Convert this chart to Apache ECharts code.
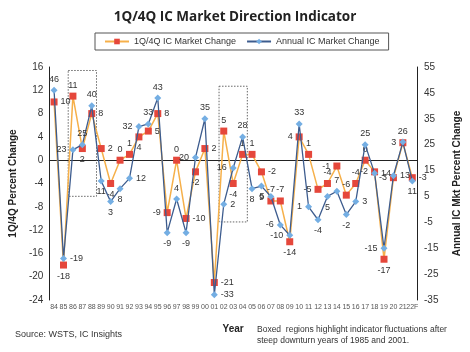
<!DOCTYPE html>
<html>
<head>
<meta charset="utf-8">
<script src="https://cdn.jsdelivr.net/npm/echarts@6/dist/echarts.min.js"></script>
<style>
  html, body { margin: 0; background: #fff; }
  #chart { width: 470px; height: 352px; }
</style>
</head>
<body>
<div id="chart"></div>
<script>
const years = ['84', '85', '86', '87', '88', '89', '90', '91', '92', '93', '94', '95', '96', '97', '98', '99',
  '00', '01', '02', '03', '04', '05', '06', '07', '08', '09', '10', '11', '12', '13', '14', '15', '16', '17',
  '18', '19', '20', '21', '22F'];
const quarterChange = [10, -18, 11, 2, 8, 2, -4, 0, 1, 4, 5, 8, -9, 0, -10, -2,
  2, -21, 5, -4, 1, 1, -2, -7, -7, -14, 4, 1, -5, -4, -1, -6, -4, 0, -2, -17, -3, 3, -3];
const annualChange = [46, -19, 23, 25, 40, 11, 3, 8, 12, 32, 33, 43, -9, 4, -9, 20,
  35, -33, 2, 16, 28, 8, 9, 5, -6, -10, 33, 1, -4, 5, 7, -2, 3, 25, 14, -15, 13, 26, 11];
const leftTicks = [-24, -20, -16, -12, -8, -4, 0, 4, 8, 12, 16];
const rightTicks = [-35, -25, -15, -5, 5, 15, 25, 35, 45, 55];

// boxed downturn regions, in category / left-axis units
const boxes = [
  { from: '86', to: '88', top: 15.4, bottom: -6.2 },
  { from: '02', to: '04', top: 12.7, bottom: -10.6 },
];

// where each value label sits (t/b/l/r)
const quarterLabelPos = 'r b t b r r b t t b r r l t r b r r t b t t r t t b l t l t l t t t l b l l r'.split(' ');
const annualLabelPos = 't r l t t b b b r l t t b t b l t r r l t b b l l l t l b b t b r t r l r t b'.split(' ');
const posName = { t: 'top', b: 'bottom', l: 'left', r: 'right' };

const font = 'Liberation Sans, Arial, sans-serif';
const chart = echarts.init(document.getElementById('chart'));

function withLabels(values, positions) {
  return values.map((v, i) => ({ value: v, label: { position: posName[positions[i]] } }));
}

const tickStyle = { lineStyle: { color: '#222', width: 1 }, length: 3 };

chart.setOption({
  animation: false,
  textStyle: { fontFamily: font },
  title: {
    text: '1Q/4Q IC Market Direction Indicator',
    left: 'center',
    top: 5,
    textStyle: { fontFamily: 'Open Sans', fontWeight: 'bold', fontSize: 13.5, color: '#222' },
  },
  legend: {
    left: 95,
    top: 33,
    padding: [4, 9, 4, 9],
    itemGap: 10,
    itemWidth: 24,
    itemHeight: 7,
    borderColor: '#555',
    borderWidth: 1,
    textStyle: { fontSize: 9, color: '#333', fontFamily: font },
  },
  grid: { left: 37, right: 42, top: 67, bottom: 52 },
  xAxis: [
    {
      type: 'category',
      data: years,
      position: 'bottom',
      axisLine: { show: false, onZero: false },
      axisTick: { show: false },
      axisLabel: { interval: 0, fontSize: 7, color: '#555', margin: 4 },
      name: 'Year',
      nameLocation: 'middle',
      nameGap: 24,
      nameTextStyle: { fontWeight: 'bold', fontSize: 10, color: '#222' },
    },
    {
      type: 'category',
      data: years,
      position: 'bottom',
      axisLine: { show: true, onZero: true, onZeroAxisIndex: 0, lineStyle: { color: '#222', width: 1 } },
      axisTick: tickStyle,
      axisLabel: { show: false },
    },
    {
      type: 'category',
      data: years,
      position: 'top',
      axisLine: { show: false, onZero: true, onZeroAxisIndex: 0 },
      axisTick: tickStyle,
      axisLabel: { show: false },
    },
  ],
  yAxis: [
    {
      type: 'value',
      position: 'left',
      min: -24,
      max: 16,
      interval: 4,
      splitLine: { show: false },
      axisLine: { show: true, lineStyle: { color: '#222' } },
      axisTick: tickStyle,
      axisLabel: { fontSize: 10, color: '#333', margin: 6 },
      name: '1Q/4Q Percent Change',
      nameLocation: 'middle',
      nameGap: 28,
      nameTextStyle: { fontWeight: 'bold', fontSize: 10, color: '#222' },
    },
    {
      type: 'value',
      position: 'right',
      min: -35,
      max: 55,
      splitLine: { show: false },
      axisLine: { show: true, lineStyle: { color: '#222' } },
      axisTick: Object.assign({ customValues: rightTicks }, tickStyle),
      axisLabel: { customValues: rightTicks, fontSize: 10, color: '#333', margin: 7 },
      name: 'Annual IC Mkt Percent Change',
      nameLocation: 'middle',
      nameRotate: 90,
      nameGap: 35,
      nameTextStyle: { fontWeight: 'bold', fontSize: 10, color: '#222' },
    },
    {
      type: 'value',
      position: 'left',
      min: -24,
      max: 16,
      interval: 4,
      splitLine: { show: false },
      axisLine: { show: false },
      axisTick: Object.assign({ inside: true }, tickStyle),
      axisLabel: { show: false },
    },
    {
      type: 'value',
      position: 'right',
      min: -35,
      max: 55,
      splitLine: { show: false },
      axisLine: { show: false },
      axisTick: Object.assign({ inside: true, customValues: rightTicks }, tickStyle),
      axisLabel: { show: false },
    },
  ],
  series: [
    {
      name: '1Q/4Q IC Market Change',
      type: 'line',
      xAxisIndex: 0,
      yAxisIndex: 0,
      data: withLabels(quarterChange, quarterLabelPos),
      symbol: 'rect',
      symbolSize: 7,
      itemStyle: { color: '#E5473B' },
      lineStyle: { color: '#F6B04A', width: 1.5 },
      label: { show: true, fontSize: 9, color: '#333', distance: 3 },
      z: 2,
    },
    {
      name: 'Annual IC Market Change',
      type: 'line',
      xAxisIndex: 0,
      yAxisIndex: 1,
      data: withLabels(annualChange, annualLabelPos),
      symbol: 'diamond',
      symbolSize: 7,
      itemStyle: { color: '#74AEE3' },
      lineStyle: { color: '#3D5C8E', width: 1.3 },
      label: { show: true, fontSize: 9, color: '#333', distance: 3 },
      z: 3,
    },
  ],
});

// dotted boxes, placed through the chart's own scales
const half = (chart.convertToPixel({ xAxisIndex: 0 }, years[1]) - chart.convertToPixel({ xAxisIndex: 0 }, years[0])) / 2;
const boxShapes = boxes.map(b => {
  const [x0, y0] = chart.convertToPixel({ xAxisIndex: 0, yAxisIndex: 0 }, [b.from, b.top]);
  const [x1, y1] = chart.convertToPixel({ xAxisIndex: 0, yAxisIndex: 0 }, [b.to, b.bottom]);
  return {
    type: 'rect',
    shape: { x: x0 - half, y: y0, width: x1 - x0 + 2 * half, height: y1 - y0 },
    style: { fill: 'none', stroke: '#666', lineWidth: 1, lineDash: [1.5, 1.5] },
    z: 1,
  };
});

chart.setOption({
  graphic: boxShapes.concat([
    {
      type: 'text',
      left: 15,
      top: 330,
      style: { text: 'Source: WSTS, IC Insights', font: '9px ' + font, fill: '#333' },
    },
    {
      type: 'text',
      left: 257,
      top: 324,
      style: {
        text: 'Boxed  regions highlight indicator fluctuations after\nsteep downturn years of 1985 and 2001.',
        font: '8.5px ' + font,
        fill: '#333',
        lineHeight: 11,
      },
    },
  ]),
});
</script>
</body>
</html>
